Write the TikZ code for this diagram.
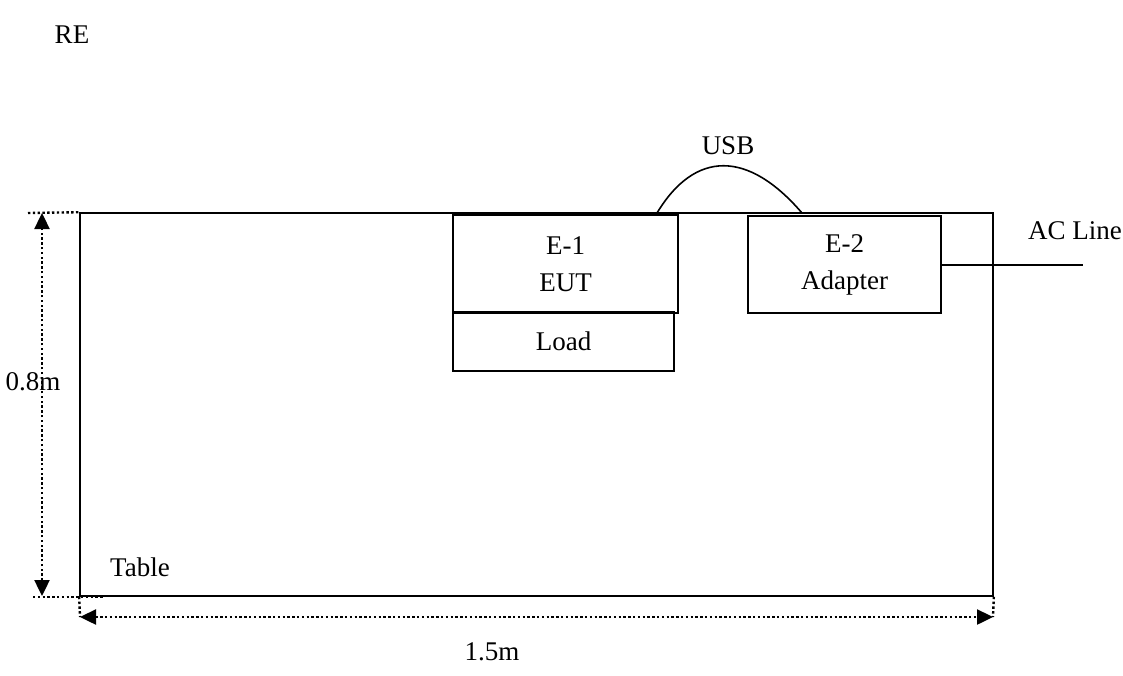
\documentclass[tikz,border=0pt]{standalone}
\usepackage{fontspec}
\setmainfont{Liberation Serif}
\usepackage{tikz}
\usetikzlibrary{arrows.meta,positioning,calc}
\tikzset{
  box/.style={draw, rectangle, line width=1.6pt, inner sep=0pt, align=center,
              font=\fontsize{27}{37}\selectfont},
  lbl/.style={font=\fontsize{27}{30}\selectfont, inner sep=0pt},
  wire/.style={line width=1.6pt},
  dimline/.style={line width=2.4pt, dash pattern=on 2.4pt off 2.4pt},
  dimarrow/.style={dimline, {Triangle[length=16pt,width=15pt]}-{Triangle[length=16pt,width=15pt]}},
}

\begin{document}
\begin{tikzpicture}[x=1pt, y=-1pt]
  \useasboundingbox (0,0) rectangle (1123,675);
  % table and devices
  \node[box, minimum width=913pt, minimum height=383pt] (table) at (536.5,404.5) {};
  \node[box, minimum width=225pt, minimum height=98pt] (eut) at (565.5,264) {E-1\\EUT};
  \node[box, minimum width=221pt, minimum height=59pt] (load) at (563.5,341.5) {Load};
  \node[box, minimum width=193pt, minimum height=97pt] (adp) at (844.5,264.5) {E-2\\Adapter};
  % labels
  \node[lbl] (title) at (72,35) {RE};
  \node[lbl] (usb) at (728,146) {USB};
  \node[lbl] (acl) at (1075,231) {AC Line};
  \node[lbl] (tbl) at (140,567) {Table};
  \node[lbl] (hgt) at (33,382) {0.8m};
  \node[lbl] (wid) at (492,652) {1.5m};
  % cables
  \coordinate (usbA) at (657,213);
  \coordinate (usbB) at (802,213);
  \coordinate (acend) at (1083,265);
  \draw[wire] (usbA) .. controls (695,150) and (748,150) .. (usbB);
  \draw[wire] (adp.east |- acend) -- (acend);
  % dimensions
  \coordinate (vtop) at (42,213);
  \coordinate (vbot) at (42,596);
  \coordinate (hl) at (80,617);
  \coordinate (hr) at (993,617);
  \draw[dimline] (28,213) -- (table.north west);
  \draw[dimline] (33,597) -- (103,597);
  \draw[dimline] (table.south west) -- (hl);
  \draw[dimline] (table.south east) -- (hr);
  \draw[dimarrow] (vbot) -- (vtop);
  \draw[dimarrow] (hl) -- (hr);
\end{tikzpicture}
\end{document}
